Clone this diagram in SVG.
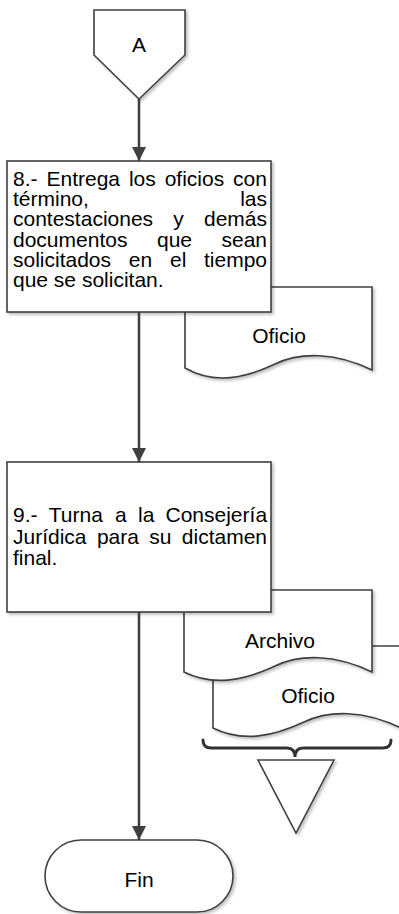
<svg xmlns="http://www.w3.org/2000/svg" width="399" height="914" viewBox="0 0 399 914">
<style>
.shape{fill:#fff;stroke:#404040;stroke-width:1.6;filter:url(#sh)}
.conn{fill:none;stroke:#404040;stroke-width:2.6}
.brace{fill:none;stroke:#333;stroke-width:3;stroke-linecap:round}
text{font-family:"Liberation Sans",Arial,sans-serif;font-size:21px;fill:#000}
.c{text-anchor:middle}
</style>
<defs>
<filter id="sh" x="-10%" y="-10%" width="130%" height="130%">
<feDropShadow dx="2" dy="2" stdDeviation="1.5" flood-color="#000" flood-opacity="0.25"/>
</filter>
<marker id="arr" markerUnits="userSpaceOnUse" markerWidth="16" markerHeight="14" viewBox="0 0 16 14" refX="15" refY="7" orient="auto">
<path d="M1,0 L15,7 L1,14 Z" fill="#404040"/>
</marker>
</defs>
<rect width="399" height="914" fill="#fff"/>

<g id="offpage-A">
<polygon class="shape" points="94,10 185,10 185,55 139,99 94,55"/>
<text class="c" x="139" y="52">A</text>
</g>

<g id="doc-oficio-2">
<path class="shape" d="M213,646 H401 V728 C364,710 329,710 304,722 C274,736 243,743 213,728 Z"/>
<text class="c" x="308" y="703">Oficio</text>
</g>

<g id="doc-archivo">
<path class="shape" d="M184,590 H372 V672 C335,654 300,654 275,666 C245,680 214,687 184,672 Z"/>
<text class="c" x="280" y="648">Archivo</text>
</g>

<g id="doc-oficio-1">
<path class="shape" d="M185,287 H372 V370 C335,352 300,352 275,364 C245,378 215,385 185,368 Z"/>
<text class="c" x="279" y="343">Oficio</text>
</g>

<g id="step-8">
<rect class="shape" x="7" y="161" width="264" height="151"/>
<text>
<tspan x="13" y="186">8.-</tspan><tspan x="46.5" y="186">Entrega</tspan><tspan x="128.9" y="186">los</tspan><tspan x="164.7" y="186">oficios</tspan><tspan x="233.1" y="186">con</tspan>
<tspan x="13" y="206.2">término,</tspan><tspan x="240.2" y="206.2">las</tspan>
<tspan x="13" y="226.4">contestaciones</tspan><tspan x="173.3" y="226.4">y</tspan><tspan x="204" y="226.4">demás</tspan>
<tspan x="13" y="246.6">documentos</tspan><tspan x="157" y="246.6">que</tspan><tspan x="221.5" y="246.6">sean</tspan>
<tspan x="13" y="266.8">solicitados</tspan><tspan x="128.8" y="266.8">en</tspan><tspan x="170" y="266.8">el</tspan><tspan x="204" y="266.8">tiempo</tspan>
<tspan x="13" y="287">que se solicitan.</tspan>
</text>
</g>

<g id="step-9">
<rect class="shape" x="7" y="462" width="264" height="150"/>
<text>
<tspan x="13" y="522">9.-</tspan><tspan x="48.8" y="522">Turna</tspan><tspan x="115" y="522">a</tspan><tspan x="138" y="522">la</tspan><tspan x="165.5" y="522">Consejería</tspan>
<tspan x="13" y="543.5">Jurídica</tspan><tspan x="96.9" y="543.5">para</tspan><tspan x="149.3" y="543.5">su</tspan><tspan x="181.8" y="543.5">dictamen</tspan>
<tspan x="13" y="565">final.</tspan>
</text>
</g>

<g id="merge">
<path class="brace" d="M203,740 Q203,748 211,748 H287 Q295,748 295,757 Q295,748 303,748 H383 Q391,748 391,740"/>
<polygon class="shape" points="258,760 334,760 296,833"/>
</g>

<g id="fin">
<rect class="shape" x="45" y="840" width="188" height="72" rx="36" ry="36"/>
<text class="c" x="139" y="887">Fin</text>
</g>

<g id="connectors">
<line class="conn" x1="139" y1="99" x2="139" y2="161" marker-end="url(#arr)"/>
<line class="conn" x1="139" y1="312" x2="139" y2="462" marker-end="url(#arr)"/>
<line class="conn" x1="139" y1="612" x2="139" y2="840" marker-end="url(#arr)"/>
</g>
</svg>
